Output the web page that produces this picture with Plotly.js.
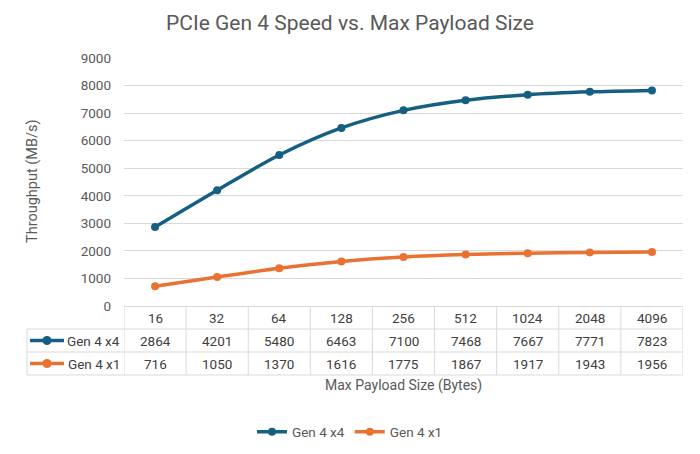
<!DOCTYPE html>
<html>
<head>
<meta charset="utf-8">
<script src="https://cdn.plot.ly/plotly-3.0.1.min.js"></script>
<style>html,body{margin:0;padding:0;background:#fff;}#chart{width:700px;height:454px;}</style>
</head>
<body>
<div id="chart"></div>
<script>
const categories = ['16', '32', '64', '128', '256', '512', '1024', '2048', '4096'];
const gen4x4 = [2864, 4201, 5480, 6463, 7100, 7468, 7667, 7771, 7823];
const gen4x1 = [716, 1050, 1370, 1616, 1775, 1867, 1917, 1943, 1956];
const seriesNames = ['Gen 4 x4', 'Gen 4 x1'];
const seriesValues = [gen4x4, gen4x1];
const seriesColors = ['#156082', '#E97132'];

const FONT = 'Roboto, "Liberation Sans", Arial, sans-serif';
const TXT = '#595959';
const TBL = '#404040';
const GRID = '#d9d9d9';
const plotH = 248, plotW = 559;
const rh = 23 / plotH;              // table row height in paper units
const leftX = (27 - 124) / plotW;   // table left edge in paper units

const traces = seriesNames.map((n, i) => ({
  type: 'scatter', mode: 'lines+markers', name: n,
  x: categories, y: seriesValues[i],
  line: {color: seriesColors[i], width: 3.5, shape: 'spline', smoothing: 0.8},
  marker: {color: seriesColors[i], size: 8}
}));

const shapes = [];
const annotations = [];
// vertical lines of table
for (let i = 0; i <= categories.length; i++) {
  shapes.push({type: 'line', xref: 'x', yref: 'paper', x0: i - 0.5, x1: i - 0.5, y0: 0, y1: -3 * rh,
    line: {color: GRID, width: 1}});
}
shapes.push({type: 'line', xref: 'paper', yref: 'paper', x0: leftX, x1: leftX, y0: -rh, y1: -3 * rh,
  line: {color: GRID, width: 1}});
for (let r = 1; r <= 3; r++) {
  shapes.push({type: 'line', xref: 'paper', yref: 'paper', x0: leftX, x1: 1, y0: -r * rh, y1: -r * rh,
    line: {color: GRID, width: 1}});
}
// header row
categories.forEach((c, i) => {
  annotations.push({xref: 'x', yref: 'paper', x: i, y: -0.5 * rh, text: c, showarrow: false,
    xanchor: 'center', yanchor: 'middle', font: {family: FONT, size: 13.5, color: TBL}});
});
// data rows
seriesNames.forEach((n, s) => {
  const yc = -(1.5 + s) * rh;
  seriesValues[s].forEach((v, i) => {
    annotations.push({xref: 'x', yref: 'paper', x: i, y: yc, text: String(v), showarrow: false,
      xanchor: 'center', yanchor: 'middle', font: {family: FONT, size: 13.5, color: TBL}});
  });
  annotations.push({xref: 'paper', yref: 'paper', x: (122 - 124) / plotW, y: yc, text: n, showarrow: false,
    xanchor: 'right', yanchor: 'middle', font: {family: FONT, size: 13.5, color: TBL}});
  // legend key inside table
  shapes.push({type: 'line', xref: 'paper', yref: 'paper', x0: (30 - 124) / plotW, x1: (64 - 124) / plotW,
    y0: yc, y1: yc, line: {color: seriesColors[s], width: 3.5}});
  shapes.push({type: 'circle', xref: 'paper', yref: 'paper', xsizemode: 'pixel', ysizemode: 'pixel',
    xanchor: (47 - 124) / plotW, yanchor: yc, x0: -4.5, x1: 4.5, y0: -4.5, y1: 4.5,
    fillcolor: seriesColors[s], line: {width: 0}});
});
// axis titles
annotations.push({xref: 'paper', yref: 'paper', x: 0.5, y: (306 - 385) / plotH, text: 'Max Payload Size (Bytes)',
  showarrow: false, xanchor: 'center', yanchor: 'middle', font: {family: FONT, size: 14, color: TXT}});
annotations.push({xref: 'paper', yref: 'paper', x: (32 - 124) / plotW, y: 0.5, text: 'Throughput (MB/s)',
  textangle: -90, showarrow: false, xanchor: 'center', yanchor: 'middle', font: {family: FONT, size: 14.5, color: TXT}});

const layout = {
  width: 700, height: 454, autosize: false,
  margin: {l: 124, r: 17, t: 58, b: 148, autoexpand: false},
  paper_bgcolor: '#ffffff', plot_bgcolor: '#ffffff',
  font: {family: FONT, color: TXT, size: 13.5},
  title: {text: 'PCIe Gen 4 Speed vs. Max Payload Size', xref: 'paper', x: (350 - 124) / plotW, xanchor: 'center',
    yref: 'container', y: 1 - 23 / 454, yanchor: 'middle', font: {family: FONT, size: 21, color: TXT}},
  xaxis: {type: 'category', range: [-0.5, categories.length - 0.5], showticklabels: false, showgrid: false,
    zeroline: false, showline: false, ticks: '', fixedrange: true, automargin: false},
  yaxis: {range: [0, 9000], dtick: 1000, showgrid: true, gridcolor: GRID, gridwidth: 1,
    zeroline: true, zerolinecolor: GRID, zerolinewidth: 1, showline: false, ticks: '', automargin: false,
    ticklabelstandoff: 12, tickfont: {family: FONT, size: 13.5, color: TXT}},
  showlegend: true,
  legend: {orientation: 'h', x: (350 - 124) / plotW, xanchor: 'center', y: (306 - 432) / plotH, yanchor: 'middle',
    font: {family: FONT, size: 13.5, color: TXT}},
  shapes: shapes,
  annotations: annotations
};

Plotly.newPlot('chart', traces, layout, {displayModeBar: false, staticPlot: true});
</script>
</body>
</html>
